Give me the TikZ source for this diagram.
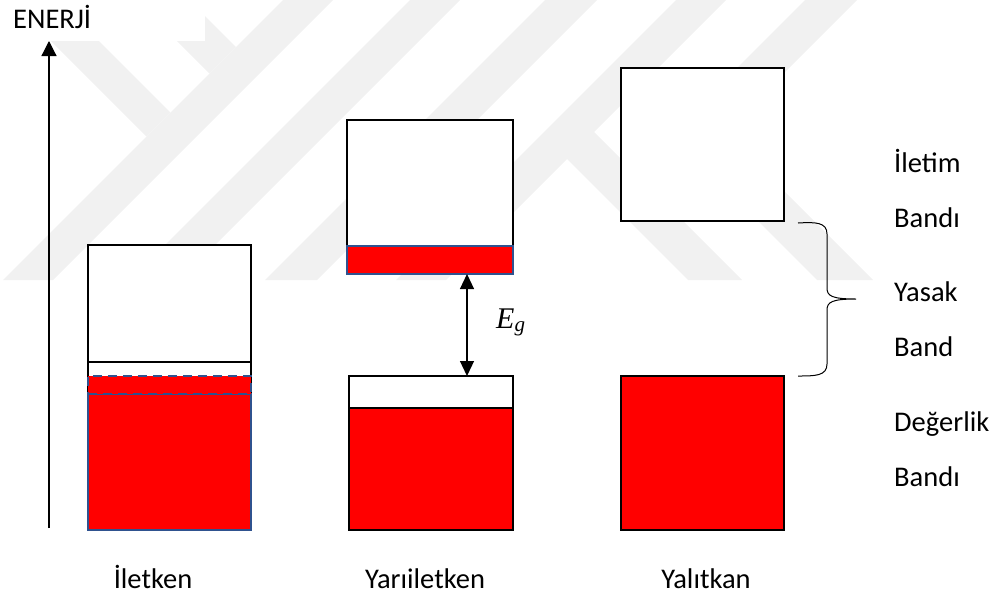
\documentclass[tikz,border=0pt]{standalone}
\usepackage{fontspec}
\setmainfont{Carlito}
\newfontfamily\eqfont{Liberation Serif}
\usetikzlibrary{arrows.meta}
\definecolor{bandred}{RGB}{255,0,0}
\definecolor{edgeblue}{RGB}{47,82,143}
\definecolor{markgray}{RGB}{241,241,241}
\begin{document}
\begin{tikzpicture}[x=1pt,y=-1pt,
  lbl/.style={font=\fontsize{28.5}{32}\selectfont, inner sep=0pt},
  band/.style={rectangle, inner sep=0pt, outer sep=0pt, anchor=north west, line width=2pt},
  emptyband/.style={band, draw=black, fill=white},
  fullband/.style={band, draw=black, fill=bandred},
  blueband/.style={band, draw=edgeblue, fill=bandred},
  stripe/.style={fill=markgray, draw=none},
  bigtip/.tip={Triangle[length=15pt,width=15pt]},
  gaptip/.tip={Triangle[length=15pt,width=14pt]}]
\useasboundingbox (0,0) rectangle (1003,595);

% faint background emblem: diagonal stripes
\fill[stripe] (283,0) -- (333,0) -- (53,280) -- (3,280) -- cycle;
\fill[stripe] (410,0) -- (460,0) -- (180,280) -- (130,280) -- cycle;
\fill[stripe] (545,0) -- (597,0) -- (317,280) -- (265,280) -- cycle;
\fill[stripe] (676,0) -- (726,0) -- (446,280) -- (396,280) -- cycle;
\fill[stripe] (805,0) -- (857,0) -- (697,160) -- (645,160) -- cycle;
\fill[stripe] (136,0) -- (189,0) -- (236,47) -- (209.5,73.5) -- cycle;
\fill[stripe] (10,0) -- (58,0) -- (170.5,112.5) -- (146.5,136.5) -- cycle;
\fill[stripe] (569,107) -- (742,280) -- (688,280) -- (567,159) -- cycle;
\fill[stripe] (699,106) -- (873,280) -- (817,280) -- (697,160) -- cycle;
\fill[white] (0,0) rectangle (205,41);

% energy axis
\coordinate (axbot) at (49,528);
\coordinate (axtop) at (49,41);
\draw[-bigtip, line width=1.2pt] (axbot) -- (axtop);
\node[lbl, anchor=base west] (energy) at (13,28) {ENERJİ};

% conductor: overlapping bands
\node[emptyband, minimum width=163, minimum height=117] (c1top) at (88,245) {};
\node[emptyband, minimum width=163, minimum height=32] (c1mid) at (88,362) {};
\node[blueband, minimum width=163, minimum height=136] (c1low) at (88,394) {};
\node[band, draw=edgeblue, fill=bandred, dash pattern=on 9pt off 6pt,
      minimum width=163, minimum height=18] (c1over) at (88,376) {};

% semiconductor
\node[emptyband, minimum width=166, minimum height=126] (s2top) at (347,120) {};
\node[blueband, minimum width=166, minimum height=28] (s2red) at (347,246) {};
\node[emptyband, minimum width=164, minimum height=154] (s2low) at (349,376) {};
\node[fullband, minimum width=164, minimum height=122] (s2fill) at (349,408) {};
\coordinate (gx) at (467,0);
\draw[gaptip-gaptip, line width=1.2pt]
  (s2red.south -| gx) -- (s2low.north -| gx);
\node[inner sep=0pt, anchor=base west] (eg) at (496,328)
  {\eqfont\itshape\fontsize{30}{32}\selectfont E\raisebox{-3pt}{\fontsize{21}{22}\selectfont g}};

% insulator
\node[emptyband, minimum width=163, minimum height=153] (i3top) at (621,68) {};
\node[fullband, minimum width=163, minimum height=154] (i3low) at (621,376) {};

% forbidden-band brace
\coordinate (brtop) at (798,223);
\coordinate (brtip) at (856,299);
\coordinate (brbot) at (798,376);
\draw[line width=1pt]
  (brtop) .. controls (815,222) and (827,222) .. (827,234)
  -- (827,288) .. controls (827,296) and (832,299) .. (brtip)
  .. controls (832,299) and (827,302) .. (827,310)
  -- (827,364) .. controls (827,376) and (815,376) .. (brbot);

% band names
\node[lbl, anchor=base west] (n1) at (894,172) {İletim};
\node[lbl, anchor=base west] (n2) at (894,227) {Bandı};
\node[lbl, anchor=base west] (n3) at (894,301) {Yasak};
\node[lbl, anchor=base west] (n4) at (894,356) {Band};
\node[lbl, anchor=base west] (n5) at (894,431) {Değerlik};
\node[lbl, anchor=base west] (n6) at (894,486) {Bandı};

% material names
\node[lbl, anchor=base] (m1) at (153,588) {İletken};
\node[lbl, anchor=base] (m2) at (425,588) {Yarıiletken};
\node[lbl, anchor=base] (m3) at (706,588) {Yalıtkan};
\end{tikzpicture}
\end{document}
